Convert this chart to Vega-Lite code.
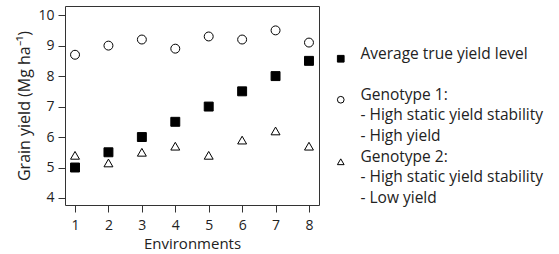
{
  "$schema": "https://vega.github.io/schema/vega-lite/v6.json",
  "autosize": "none",
  "width": 254,
  "height": 199,
  "padding": {"left": 65, "top": 6, "right": 240, "bottom": 49},
  "config": {
    "font": "Open Sans",
    "view": {"stroke": "#333", "strokeWidth": 1},
    "style": {"guide-label": {"lineHeight": 20.5}}
  },
  "data": {"values": [
    {"env": 1, "series": "avg", "yield": 5.0},
    {"env": 2, "series": "avg", "yield": 5.5},
    {"env": 3, "series": "avg", "yield": 6.0},
    {"env": 4, "series": "avg", "yield": 6.5},
    {"env": 5, "series": "avg", "yield": 7.0},
    {"env": 6, "series": "avg", "yield": 7.5},
    {"env": 7, "series": "avg", "yield": 8.0},
    {"env": 8, "series": "avg", "yield": 8.5},
    {"env": 1, "series": "g1", "yield": 8.7},
    {"env": 2, "series": "g1", "yield": 9.0},
    {"env": 3, "series": "g1", "yield": 9.2},
    {"env": 4, "series": "g1", "yield": 8.9},
    {"env": 5, "series": "g1", "yield": 9.3},
    {"env": 6, "series": "g1", "yield": 9.2},
    {"env": 7, "series": "g1", "yield": 9.5},
    {"env": 8, "series": "g1", "yield": 9.1},
    {"env": 1, "series": "g2", "yield": 5.4},
    {"env": 2, "series": "g2", "yield": 5.15},
    {"env": 3, "series": "g2", "yield": 5.5},
    {"env": 4, "series": "g2", "yield": 5.7},
    {"env": 5, "series": "g2", "yield": 5.4},
    {"env": 6, "series": "g2", "yield": 5.9},
    {"env": 7, "series": "g2", "yield": 6.2},
    {"env": 8, "series": "g2", "yield": 5.7}
  ]},
  "mark": {"type": "point", "size": 80, "strokeWidth": 1, "opacity": 1},
  "encoding": {
    "x": {
      "field": "env", "type": "quantitative",
      "scale": {"domain": [0.7, 8.3], "nice": false, "zero": false},
      "axis": {"values": [1,2,3,4,5,6,7,8], "grid": false, "domain": false, "tickColor": "#333", "tickSize": 7,
               "labelFontSize": 14, "labelColor": "#222", "labelPadding": 6,
               "title": "Environments", "titleFontSize": 15, "titleFontWeight": "normal", "titleColor": "#222", "titlePadding": 4}
    },
    "y": {
      "field": "yield", "type": "quantitative",
      "scale": {"domain": [3.77, 10.3], "nice": false, "zero": false},
      "axis": {"values": [4,5,6,7,8,9,10], "grid": false, "domain": false, "tickColor": "#333", "tickSize": 7,
               "labelFontSize": 14, "labelColor": "#222", "labelPadding": 4,
               "title": "Grain yield (Mg ha⁻¹)", "titleFontSize": 16, "titleFontWeight": "normal", "titleColor": "#222", "titlePadding": 5}
    },
    "shape": {
      "field": "series", "type": "nominal",
      "scale": {"domain": ["avg", "g1", "g2"], "range": ["square", "circle", "triangle-up"]},
      "legend": {
        "title": null, "orient": "none", "legendX": 268, "legendY": 45,
        "labelFontSize": 15.5, "labelColor": "#222", "labelLimit": 300, "symbolSize": 45,
        "symbolStrokeWidth": 1, "labelOffset": 12, "rowPadding": 4,
        "labelBaseline": "alphabetic",
        "labelExpr": "datum.value == 'avg' ? ['Average true yield level', ''] : datum.value == 'g1' ? ['Genotype 1:', '- High static yield stability', '- High yield'] : ['Genotype 2:', '- High static yield stability', '- Low yield']"
      }
    },
    "stroke": {
      "field": "series", "type": "nominal",
      "scale": {"domain": ["avg", "g1", "g2"], "range": ["black", "black", "black"]}
    },
    "fill": {
      "field": "series", "type": "nominal",
      "scale": {"domain": ["avg", "g1", "g2"], "range": ["black", "transparent", "transparent"]}
    }
  }
}
